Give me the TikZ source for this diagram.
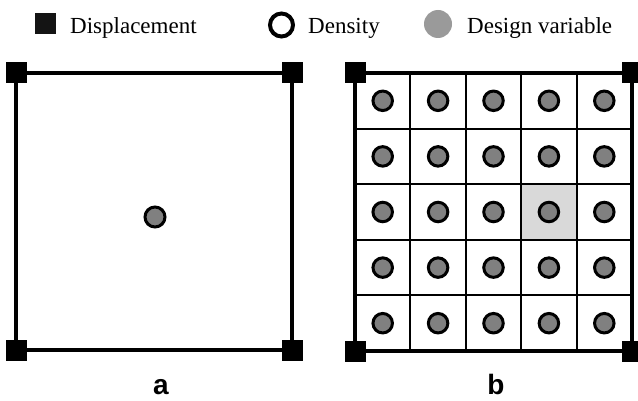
\documentclass[tikz,border=0pt]{standalone}
\usepackage{fontspec}
\setmainfont{Liberation Serif}
\newfontfamily\labelfont{Liberation Sans}
\definecolor{dotgray}{HTML}{808080}
\definecolor{leggray}{HTML}{9A9A9A}
\definecolor{hlgray}{HTML}{D9D9D9}
\begin{document}
\begin{tikzpicture}[x=1pt,y=-1pt,
  corner/.style={fill=black,draw=none,minimum size=21pt,inner sep=0pt},
  dvar/.style={circle,draw=black,line width=3pt,fill=dotgray,minimum size=19.5pt,inner sep=0pt},
  outer/.style={line width=4pt},
  gridline/.style={line width=2pt},
  legtext/.style={anchor=base west,inner sep=0pt,font=\fontsize{23}{28}\selectfont},
  panellabel/.style={anchor=base,inner sep=0pt,font=\labelfont\bfseries\fontsize{28}{32}\selectfont}]
\useasboundingbox (0,0) rectangle (638,401);
% legend
\node[fill=black!92,minimum size=21pt,inner sep=0pt] (legsq) at (45.5,23.5) {};
\node[legtext] (legdisp) at (70,34) {Displacement};
\node[circle,draw=black,line width=4pt,minimum size=23pt,inner sep=0pt] (legden) at (281.5,25) {};
\node[legtext] (legdentxt) at (308,34) {Density};
\node[circle,fill=leggray,minimum size=28pt,inner sep=0pt] (legdv) at (438,24) {};
\node[legtext] (legdvtxt) at (467,34) {Design variable};
% panel a
\coordinate (a1) at (16,73);
\coordinate (a2) at (292,73);
\coordinate (a3) at (292,350);
\coordinate (a4) at (16,350);
\draw[outer] (a1) -- (a2) -- (a3) -- (a4) -- cycle;
\node[corner] (ca1) at (a1) {};
\node[corner] (ca2) at (a2) {};
\node[corner] (ca3) at (a3) {};
\node[corner] (ca4) at (a4) {};
\node[dvar,minimum size=20pt] (adot) at (155,217) {};
\node[panellabel] (la) at (161,394.5) {a};
% panel b
\fill[hlgray] (521.2,184.2) rectangle (576.6,239.8);
\foreach \i in {1,2,3,4} {
  \draw[gridline] ({355+55.4*\i},73) -- ({355+55.4*\i},351);
  \draw[gridline] (355,{73+55.6*\i}) -- (632,{73+55.6*\i});
}
\coordinate (b1) at (355,73);
\coordinate (b2) at (632,73);
\coordinate (b3) at (632,351);
\coordinate (b4) at (355,351);
\draw[outer] (b1) -- (b2) -- (b3) -- (b4) -- cycle;
\node[corner] (cb1) at (b1) {};
\node[corner] (cb2) at (b2) {};
\node[corner] (cb3) at (b3) {};
\node[corner] (cb4) at (b4) {};
\foreach \r in {0,...,4} {
  \foreach \c in {0,...,4} {
    \node[dvar] (bdot\r\c) at ({382.7+55.4*\c},{100.8+55.6*\r}) {};
  }
}
\node[panellabel] (lb) at (496,394.5) {b};
\end{tikzpicture}
\end{document}
